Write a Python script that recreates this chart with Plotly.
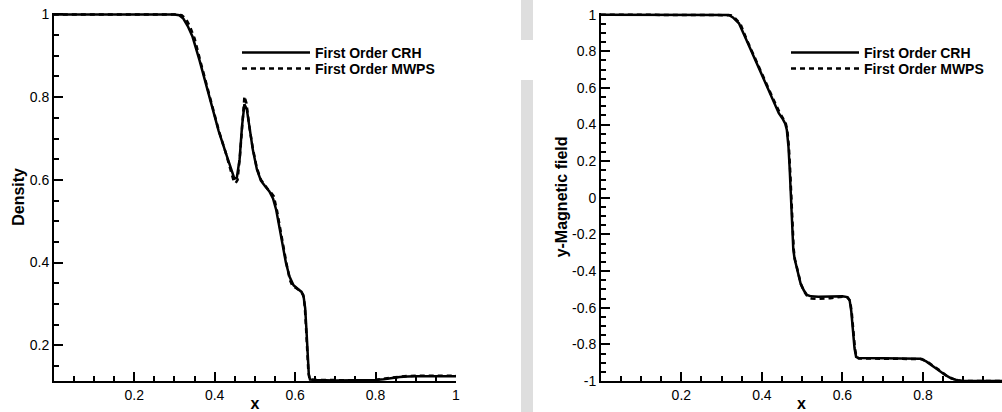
import plotly.graph_objects as go

# ---------------- data ----------------
x_rho_crh = [0.0, 0.30, 0.312, 0.322, 0.333, 0.345, 0.362, 0.38, 0.395, 0.41, 0.428, 0.44, 0.449, 0.455,
             0.462, 0.468, 0.474, 0.480, 0.487, 0.495, 0.505, 0.515, 0.525, 0.536, 0.545, 0.553, 0.561,
             0.569, 0.577, 0.586, 0.596, 0.607, 0.616, 0.621, 0.625, 0.628, 0.631, 0.634, 0.637, 0.65,
             0.70, 0.78, 0.80, 0.82, 0.84, 0.86, 0.88, 0.90, 1.0]
rho_crh = [1.0, 1.0, 0.998, 0.99, 0.972, 0.946, 0.89, 0.826, 0.772, 0.718, 0.664, 0.628, 0.603, 0.605,
           0.65, 0.73, 0.783, 0.77, 0.72, 0.672, 0.625, 0.598, 0.585, 0.572, 0.555, 0.527, 0.485,
           0.44, 0.40, 0.366, 0.345, 0.336, 0.329, 0.318, 0.29, 0.24, 0.18, 0.13, 0.117, 0.116,
           0.115, 0.115, 0.116, 0.118, 0.121, 0.123, 0.1245, 0.125, 0.125]

x_rho_mwps = [0.0, 0.305, 0.318, 0.328, 0.338, 0.35, 0.365, 0.38, 0.395, 0.41, 0.428, 0.44, 0.447, 0.452,
              0.457, 0.463, 0.469, 0.474, 0.479, 0.486, 0.495, 0.505, 0.515, 0.525, 0.534, 0.541, 0.547,
              0.555, 0.563, 0.571, 0.579, 0.587, 0.594, 0.603, 0.613, 0.62, 0.624, 0.627, 0.630, 0.633,
              0.636, 0.65, 0.78, 0.80, 0.82, 0.84, 0.86, 0.88, 0.90, 1.0]
rho_mwps = [1.0, 1.0, 0.998, 0.99, 0.972, 0.942, 0.885, 0.828, 0.773, 0.72, 0.664, 0.625, 0.598, 0.592,
            0.6, 0.66, 0.75, 0.802, 0.785, 0.73, 0.675, 0.628, 0.6, 0.586, 0.575, 0.568, 0.56,
            0.525, 0.48, 0.435, 0.395, 0.358, 0.342, 0.338, 0.331, 0.322, 0.295, 0.245, 0.185, 0.135,
            0.117, 0.116, 0.115, 0.116, 0.119, 0.122, 0.124, 0.1255, 0.126, 0.126]

x_by_crh = [0.0, 0.31, 0.318, 0.328, 0.343, 0.36, 0.376, 0.392, 0.409, 0.425, 0.442, 0.452, 0.458, 0.462,
            0.466, 0.469, 0.471, 0.473, 0.475, 0.478, 0.481, 0.484, 0.49, 0.496, 0.504, 0.512, 0.522,
            0.54, 0.60, 0.612, 0.618, 0.622, 0.626, 0.63, 0.634, 0.64, 0.70, 0.78, 0.793, 0.808, 0.822,
            0.838, 0.855, 0.87, 0.884, 0.895, 1.0]
by_crh = [1.0, 1.0, 0.998, 0.985, 0.953, 0.87, 0.789, 0.705, 0.625, 0.545, 0.462, 0.43, 0.405, 0.37,
          0.28, 0.16, 0.06, -0.06, -0.19, -0.28, -0.33, -0.36, -0.42, -0.467, -0.505, -0.53, -0.538,
          -0.54, -0.538, -0.542, -0.56, -0.62, -0.72, -0.82, -0.868, -0.875, -0.876, -0.876, -0.878,
          -0.893, -0.913, -0.94, -0.967, -0.985, -0.995, -1.0, -1.0]

x_by_mwps = [0.0, 0.315, 0.323, 0.333, 0.347, 0.362, 0.378, 0.394, 0.41, 0.426, 0.443, 0.453, 0.459,
             0.463, 0.467, 0.470, 0.472, 0.474, 0.476, 0.479, 0.482, 0.485, 0.491, 0.497, 0.505, 0.513,
             0.523, 0.54, 0.57, 0.60, 0.613, 0.619, 0.623, 0.627, 0.631, 0.635, 0.641, 0.70, 0.78, 0.797,
             0.812, 0.826, 0.842, 0.858, 0.873, 0.887, 0.898, 1.0]
by_mwps = [1.0, 1.0, 0.997, 0.982, 0.948, 0.866, 0.786, 0.702, 0.625, 0.55, 0.47, 0.435, 0.408, 0.372,
           0.28, 0.16, 0.06, -0.06, -0.19, -0.28, -0.335, -0.365, -0.425, -0.472, -0.512, -0.538,
           -0.55, -0.552, -0.548, -0.54, -0.544, -0.562, -0.622, -0.722, -0.822, -0.87, -0.877, -0.878,
           -0.878, -0.88, -0.896, -0.916, -0.943, -0.97, -0.987, -0.996, -1.0, -1.0]

names = ["First Order CRH", "First Order MWPS"]
y_ticks_right = [-1.0, -0.8, -0.6, -0.4, -0.2, 0.0, 0.2, 0.4, 0.6, 0.8, 1.0]
y_ticktext_right = ["-1", "-0.8", "-0.6", "-0.4", "-0.2", "0", "0.2", "0.4", "0.6", "0.8", "1"]

W, H = 1002, 412
FONT = "Liberation Sans, Arial, Helvetica, sans-serif"
LW = 2.5
DASH = "5px,4px"

fig = go.Figure()
fig.add_trace(go.Scatter(x=x_rho_crh, y=rho_crh, mode="lines", name=names[0],
                         line=dict(color="black", width=LW), xaxis="x", yaxis="y", legend="legend"))
fig.add_trace(go.Scatter(x=x_rho_mwps, y=rho_mwps, mode="lines", name=names[1],
                         line=dict(color="black", width=LW, dash=DASH), xaxis="x", yaxis="y", legend="legend2"))
fig.add_trace(go.Scatter(x=x_by_crh, y=by_crh, mode="lines", name=names[0],
                         line=dict(color="black", width=LW), xaxis="x2", yaxis="y2", legend="legend3"))
fig.add_trace(go.Scatter(x=x_by_mwps, y=by_mwps, mode="lines", name=names[1],
                         line=dict(color="black", width=LW, dash=DASH), xaxis="x2", yaxis="y2", legend="legend4"))


def axis_common():
    return dict(showline=True, linecolor="black", linewidth=2, mirror=False,
                showgrid=False, zeroline=False, ticks="inside", ticklen=9, tickwidth=2,
                tickcolor="black", tickfont=dict(family=FONT, size=14, color="black"),
                automargin=False,
                minor=dict(ticks="inside", ticklen=5, tickwidth=1.5, tickcolor="black",
                           tick0=0, dtick=0.05, showgrid=False))


def title(t, standoff):
    return dict(text=t, font=dict(family=FONT, size=16, weight="bold", color="black"), standoff=standoff)


# pixel geometry
left_x0, left_x1 = 54, 456
right_x0 = 601
ybot_px = 381
ydom = [(H - ybot_px) / H, (H - 12.8) / H]

xa = axis_common()
xa.update(domain=[left_x0 / W, left_x1 / W], range=[0.0005, 1], anchor="y",
          tickmode="linear", tick0=0, dtick=0.2, title=title("x", 5))

ya = axis_common()
ya.update(domain=ydom, range=[0.1135, 1.004], anchor="x",
          tickmode="linear", tick0=0, dtick=0.2, title=title("Density", 1))

xr_max = (W - right_x0) / 402.5
xa2 = axis_common()
xa2.update(domain=[right_x0 / W, 1.0], range=[0.0005, xr_max], anchor="y2",
           tickmode="linear", tick0=0, dtick=0.2, title=title("x", 5))

ya2 = axis_common()
ya2.update(domain=ydom, range=[-1.0, 1.01], anchor="x2",
           tickmode="array", tickvals=y_ticks_right, ticktext=y_ticktext_right,
           title=title("y-Magnetic field", 0))

legend_common = dict(font=dict(family=FONT, size=14, color="black", weight="bold"),
                     bgcolor="rgba(0,0,0,0)", borderwidth=0, itemwidth=68,
                     xanchor="left", yanchor="top")

fig.update_layout(
    width=W, height=H,
    margin=dict(l=0, r=0, t=0, b=0),
    paper_bgcolor="white", plot_bgcolor="white",
    showlegend=True,
    xaxis=xa, yaxis=ya, xaxis2=xa2, yaxis2=ya2,
    legend=dict(x=237 / W, y=1 - 37 / H, **legend_common),
    legend2=dict(x=237 / W, y=1 - 53 / H, **legend_common),
    legend3=dict(x=786 / W, y=1 - 37 / H, **legend_common),
    legend4=dict(x=786 / W, y=1 - 53 / H, **legend_common),
    shapes=[
        dict(type="rect", xref="paper", yref="paper", x0=521 / W, x1=533 / W, y0=1 - 40 / H, y1=1,
             fillcolor="#dedede", line=dict(width=0), layer="below"),
        dict(type="rect", xref="paper", yref="paper", x0=521 / W, x1=533 / W, y0=0, y1=1 - 80 / H,
             fillcolor="#dedede", line=dict(width=0), layer="below"),
    ],
)

fig.write_html(
    "out.html",
    config=dict(displayModeBar=False),
    post_script="document.body.style.margin='0';document.body.style.overflow='hidden';",
)
